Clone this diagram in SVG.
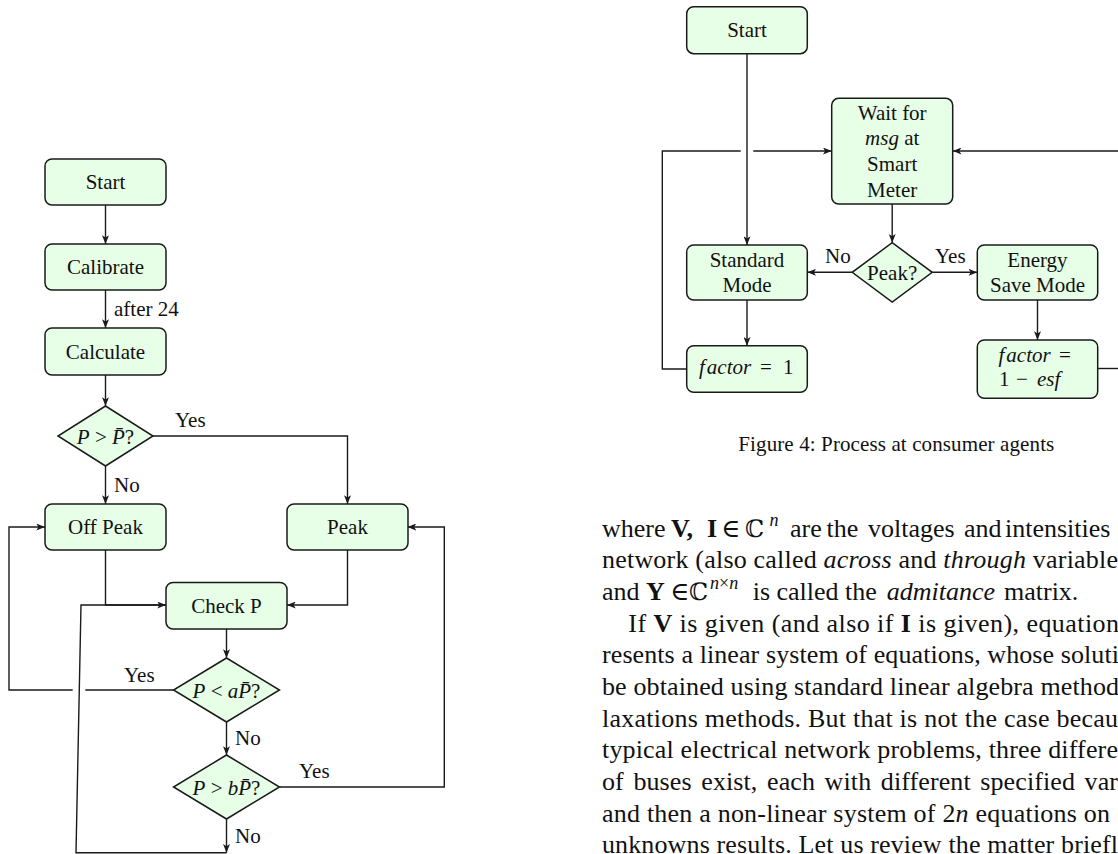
<svg xmlns="http://www.w3.org/2000/svg" width="1118" height="854" viewBox="0 0 1118 854">
<defs>
<style>
text{font-family:'Liberation Serif','Times New Roman','DejaVu Serif',serif;fill:#111;}
.n{font-size:21px;text-anchor:middle;}
.lb{font-size:21px;}
.i{font-style:italic;}
.b{font-weight:bold;}
.box{fill:#e6ffe6;stroke:#1a1a1a;stroke-width:1.5;}
.ln{fill:none;stroke:#1a1a1a;stroke-width:1.4;}
.p{font-size:26px;}
</style>
<marker id="ah" viewBox="0 0 10 8" refX="10" refY="4" markerWidth="9" markerHeight="7" markerUnits="userSpaceOnUse" orient="auto">
<path d="M0,0 L10,4 L0,8 L2.5,4 z" fill="#1a1a1a"/>
</marker>
</defs>
<rect width="1118" height="854" fill="#fff"/>

<g id="connectors">
<path class="ln" d="M105.5,205 V244" marker-end="url(#ah)"/>
<path class="ln" d="M105.5,290 V328" marker-end="url(#ah)"/>
<path class="ln" d="M105.5,375 V406" marker-end="url(#ah)"/>
<path class="ln" d="M105.5,466 V504" marker-end="url(#ah)"/>
<path class="ln" d="M153,436 H347.5 V504" marker-end="url(#ah)"/>
<path class="ln" d="M105.5,550 V605 H166" marker-end="url(#ah)"/>
<path class="ln" d="M347.5,550 V605 H287" marker-end="url(#ah)"/>
<path class="ln" d="M226.5,629 V658" marker-end="url(#ah)"/>
<path class="ln" d="M173.5,690 H85.3 M72.7,690 H9 V527 H45" marker-end="url(#ah)"/>
<path class="ln" d="M226.5,722 V755" marker-end="url(#ah)"/>
<path class="ln" d="M279.5,787 H444.3 V527 H407.5" marker-end="url(#ah)"/>
<path class="ln" d="M226.5,819 V852.7" marker-end="url(#ah)"/>
<path class="ln" d="M226.5,852.7 H76 L81,605 H166"/>

<path class="ln" d="M747,53.7 V245" marker-end="url(#ah)"/>
<path class="ln" d="M686.7,369 H662.3 V151 H740.7 M753.3,151 H831.7" marker-end="url(#ah)"/>
<path class="ln" d="M892.2,204 V242.7" marker-end="url(#ah)"/>
<path class="ln" d="M852.2,272.3 H807.3" marker-end="url(#ah)"/>
<path class="ln" d="M932.2,272.3 H977.3" marker-end="url(#ah)"/>
<path class="ln" d="M747,300 V345.7" marker-end="url(#ah)"/>
<path class="ln" d="M1037.5,300 V340" marker-end="url(#ah)"/>
<path class="ln" d="M1097.7,368.5 H1125"/>
<path class="ln" d="M1125,151 H952.7" marker-end="url(#ah)"/>

<text class="lb" x="114" y="316">after 24</text>
<text class="lb" x="175" y="427">Yes</text>
<text class="lb" x="114" y="492">No</text>
<text class="lb" x="124" y="682">Yes</text>
<text class="lb" x="235" y="745">No</text>
<text class="lb" x="299" y="778">Yes</text>
<text class="lb" x="235" y="843">No</text>
<text class="lb" x="825" y="263">No</text>
<text class="lb" x="935" y="263">Yes</text>
</g>

<g id="l-start"><rect class="box" x="45" y="159" width="121" height="46" rx="7"/><text class="n" x="105.5" y="189">Start</text></g>
<g id="l-calibrate"><rect class="box" x="45" y="244" width="121" height="46" rx="7"/><text class="n" x="105.5" y="274">Calibrate</text></g>
<g id="l-calculate"><rect class="box" x="45" y="328" width="121" height="47" rx="7"/><text class="n" x="105.5" y="358.5">Calculate</text></g>
<g id="l-d1"><polygon class="box" points="105.5,406 153,436 105.5,466 58,436"/><text class="n" x="105.5" y="444"><tspan class="i">P</tspan> &gt; <tspan class="i">P&#772;</tspan>?</text></g>
<g id="l-offpeak"><rect class="box" x="45" y="504" width="121" height="46" rx="7"/><text class="n" x="105.5" y="534">Off Peak</text></g>
<g id="l-peak"><rect class="box" x="287" y="504" width="121" height="46" rx="7"/><text class="n" x="347.5" y="534">Peak</text></g>
<g id="l-checkp"><rect class="box" x="166" y="582.5" width="121" height="46.5" rx="7"/><text class="n" x="226.5" y="612.5">Check P</text></g>
<g id="l-d2"><polygon class="box" points="226.5,658 279.5,690 226.5,722 173.5,690"/><text class="n" x="226.5" y="698"><tspan class="i">P</tspan> &lt; <tspan class="i">aP&#772;</tspan>?</text></g>
<g id="l-d3"><polygon class="box" points="226.5,755 279.5,787 226.5,819 173.5,787"/><text class="n" x="226.5" y="795"><tspan class="i">P</tspan> &gt; <tspan class="i">bP&#772;</tspan>?</text></g>

<g id="r-start"><rect class="box" x="686.7" y="6.7" width="120.6" height="47" rx="7"/><text class="n" x="747" y="37">Start</text></g>
<g id="r-wait"><rect class="box" x="831.7" y="98.3" width="121" height="105.7" rx="7"/>
<text class="n" x="892.2" y="119.5">Wait for</text>
<text class="n" x="892.2" y="145.2"><tspan class="i">msg</tspan> at</text>
<text class="n" x="892.2" y="170.9">Smart</text>
<text class="n" x="892.2" y="196.6">Meter</text></g>
<g id="r-peak"><polygon class="box" points="892.2,242.7 932.2,272.3 892.2,302 852.2,272.3"/><text class="n" x="892.2" y="280">Peak?</text></g>
<g id="r-standard"><rect class="box" x="686.7" y="245" width="120.6" height="55" rx="7"/><text class="n" x="747" y="266.5">Standard</text><text class="n" x="747" y="291.5">Mode</text></g>
<g id="r-energy"><rect class="box" x="977.3" y="245" width="120.4" height="55" rx="7"/><text class="n" x="1037.5" y="266.5">Energy</text><text class="n" x="1037.5" y="291.5">Save Mode</text></g>
<g id="r-factor1"><rect class="box" x="686.7" y="345.7" width="120.6" height="46.6" rx="7"/>
<text class="lb" x="699" y="374"><tspan class="i">f</tspan><tspan class="i" dx="2">actor</tspan><tspan x="760">=</tspan><tspan x="783">1</tspan></text></g>
<g id="r-factor2"><rect class="box" x="977.3" y="340" width="120.4" height="58.3" rx="7"/>
<text class="lb" x="998.5" y="361.7"><tspan class="i">f</tspan><tspan class="i" dx="2">actor</tspan><tspan x="1059">=</tspan></text>
<text class="lb" x="999" y="386">1<tspan x="1016">−</tspan><tspan class="i" x="1037">esf</tspan></text></g>

<g id="caption"><text x="738.3" y="451" font-size="21" textLength="316" lengthAdjust="spacing">Figure 4: Process at consumer agents</text></g>

<g id="body-text">
<text class="p" y="536.7"><tspan x="602">where</tspan><tspan x="671" class="b">V,</tspan><tspan x="707" class="b">I</tspan><tspan x="721">∈</tspan><tspan x="745" font-size="24">ℂ</tspan><tspan x="769.5" dy="-11" class="i" font-size="18">n</tspan><tspan x="790" dy="11">are</tspan><tspan x="826.5">the</tspan><tspan x="868">voltages</tspan><tspan x="964">and</tspan><tspan x="1005">intensities</tspan></text>
<text class="p" x="602" y="568.3" textLength="516" lengthAdjust="spacing">network (also called <tspan class="i">across</tspan> and <tspan class="i">through</tspan> variable</text>
<text class="p" y="600"><tspan x="602">and</tspan><tspan x="646" class="b">Y</tspan><tspan x="670">∈</tspan><tspan x="689" font-size="24">ℂ</tspan><tspan x="710" dy="-11" font-size="18"><tspan class="i">n</tspan>×<tspan class="i">n</tspan></tspan><tspan x="752.7" dy="11">is called the</tspan><tspan x="886.7" class="i">admitance</tspan><tspan x="1004">matrix.</tspan></text>
<text class="p" x="628.3" y="631.7" textLength="490.7" lengthAdjust="spacing">If <tspan class="b">V</tspan> is given (and also if <tspan class="b">I</tspan> is given), equation</text>
<text class="p" x="602" y="663.3" textLength="517" lengthAdjust="spacing">resents a linear system of equations, whose soluti</text>
<text class="p" x="602" y="695" textLength="517" lengthAdjust="spacing">be obtained using standard linear algebra method</text>
<text class="p" x="602" y="726.7" textLength="516" lengthAdjust="spacing">laxations methods. But that is not the case becau</text>
<text class="p" x="602" y="758.3" textLength="516" lengthAdjust="spacing">typical electrical network problems, three differe</text>
<text class="p" x="602" y="790" word-spacing="3" textLength="516" lengthAdjust="spacing">of buses exist, each with different specified var</text>
<text class="p" x="602" y="821.7" textLength="508" lengthAdjust="spacing">and then a non-linear system of 2<tspan class="i">n</tspan> equations on</text>
<text class="p" x="602" y="853.3" textLength="516" lengthAdjust="spacing">unknowns results. Let us review the matter briefl</text>
</g>
</svg>
